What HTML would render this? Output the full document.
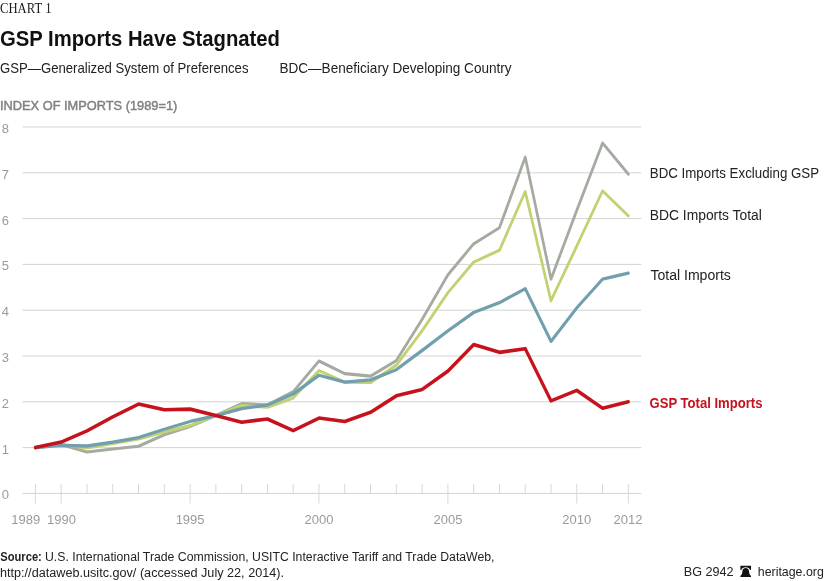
<!DOCTYPE html><html><head><meta charset="utf-8"><title>GSP Imports Have Stagnated</title>
<style>html,body{margin:0;padding:0;background:#fff}svg{display:block}text{font-family:"Liberation Sans",sans-serif}</style></head><body>
<svg width="825" height="581" viewBox="0 0 825 581">
<rect width="825" height="581" fill="#fff"/>
<text x="0" y="13" style="font-family:'Liberation Serif',serif" font-size="14.5" fill="#1a1a1a" textLength="51.5" lengthAdjust="spacingAndGlyphs">CHART 1</text>
<text x="0" y="45.8" font-size="22.5" font-weight="bold" fill="#111" textLength="280" lengthAdjust="spacingAndGlyphs">GSP Imports Have Stagnated</text>
<text x="0" y="73.2" font-size="15" fill="#222" textLength="248.5" lengthAdjust="spacingAndGlyphs">GSP—Generalized System of Preferences</text>
<text x="279.4" y="73.2" font-size="15" fill="#222" textLength="232.2" lengthAdjust="spacingAndGlyphs">BDC—Beneficiary Developing Country</text>
<text x="0" y="110" font-size="12.8" fill="#808080" stroke="#808080" stroke-width="0.45" textLength="177.3" lengthAdjust="spacingAndGlyphs">INDEX OF IMPORTS (1989=1)</text>
<line x1="22.5" x2="641.3" y1="493.40" y2="493.40" stroke="#d4d4d4" stroke-width="1"/>
<text x="1.8" y="499.3" font-size="13" fill="#9b9b9b">0</text>
<line x1="22.5" x2="641.3" y1="447.60" y2="447.60" stroke="#d4d4d4" stroke-width="1"/>
<text x="1.8" y="453.5" font-size="13" fill="#9b9b9b">1</text>
<line x1="22.5" x2="641.3" y1="401.80" y2="401.80" stroke="#d4d4d4" stroke-width="1"/>
<text x="1.8" y="407.7" font-size="13" fill="#9b9b9b">2</text>
<line x1="22.5" x2="641.3" y1="356.00" y2="356.00" stroke="#d4d4d4" stroke-width="1"/>
<text x="1.8" y="361.9" font-size="13" fill="#9b9b9b">3</text>
<line x1="22.5" x2="641.3" y1="310.20" y2="310.20" stroke="#d4d4d4" stroke-width="1"/>
<text x="1.8" y="316.1" font-size="13" fill="#9b9b9b">4</text>
<line x1="22.5" x2="641.3" y1="264.40" y2="264.40" stroke="#d4d4d4" stroke-width="1"/>
<text x="1.8" y="270.3" font-size="13" fill="#9b9b9b">5</text>
<line x1="22.5" x2="641.3" y1="218.60" y2="218.60" stroke="#d4d4d4" stroke-width="1"/>
<text x="1.8" y="224.5" font-size="13" fill="#9b9b9b">6</text>
<line x1="22.5" x2="641.3" y1="172.80" y2="172.80" stroke="#d4d4d4" stroke-width="1"/>
<text x="1.8" y="178.7" font-size="13" fill="#9b9b9b">7</text>
<line x1="22.5" x2="641.3" y1="127.00" y2="127.00" stroke="#d4d4d4" stroke-width="1"/>
<text x="1.8" y="132.9" font-size="13" fill="#9b9b9b">8</text>
<line x1="35.40" x2="35.40" y1="484" y2="503.5" stroke="#d8d8d8" stroke-width="1"/>
<line x1="61.18" x2="61.18" y1="484" y2="503.5" stroke="#d8d8d8" stroke-width="1"/>
<line x1="86.96" x2="86.96" y1="484" y2="493.5" stroke="#d8d8d8" stroke-width="1"/>
<line x1="112.74" x2="112.74" y1="484" y2="493.5" stroke="#d8d8d8" stroke-width="1"/>
<line x1="138.52" x2="138.52" y1="484" y2="493.5" stroke="#d8d8d8" stroke-width="1"/>
<line x1="164.30" x2="164.30" y1="484" y2="493.5" stroke="#d8d8d8" stroke-width="1"/>
<line x1="190.08" x2="190.08" y1="484" y2="503.5" stroke="#d8d8d8" stroke-width="1"/>
<line x1="215.86" x2="215.86" y1="484" y2="493.5" stroke="#d8d8d8" stroke-width="1"/>
<line x1="241.64" x2="241.64" y1="484" y2="493.5" stroke="#d8d8d8" stroke-width="1"/>
<line x1="267.42" x2="267.42" y1="484" y2="493.5" stroke="#d8d8d8" stroke-width="1"/>
<line x1="293.20" x2="293.20" y1="484" y2="493.5" stroke="#d8d8d8" stroke-width="1"/>
<line x1="318.98" x2="318.98" y1="484" y2="503.5" stroke="#d8d8d8" stroke-width="1"/>
<line x1="344.76" x2="344.76" y1="484" y2="493.5" stroke="#d8d8d8" stroke-width="1"/>
<line x1="370.54" x2="370.54" y1="484" y2="493.5" stroke="#d8d8d8" stroke-width="1"/>
<line x1="396.32" x2="396.32" y1="484" y2="493.5" stroke="#d8d8d8" stroke-width="1"/>
<line x1="422.10" x2="422.10" y1="484" y2="493.5" stroke="#d8d8d8" stroke-width="1"/>
<line x1="447.88" x2="447.88" y1="484" y2="503.5" stroke="#d8d8d8" stroke-width="1"/>
<line x1="473.66" x2="473.66" y1="484" y2="493.5" stroke="#d8d8d8" stroke-width="1"/>
<line x1="499.44" x2="499.44" y1="484" y2="493.5" stroke="#d8d8d8" stroke-width="1"/>
<line x1="525.22" x2="525.22" y1="484" y2="493.5" stroke="#d8d8d8" stroke-width="1"/>
<line x1="551.00" x2="551.00" y1="484" y2="493.5" stroke="#d8d8d8" stroke-width="1"/>
<line x1="576.78" x2="576.78" y1="484" y2="503.5" stroke="#d8d8d8" stroke-width="1"/>
<line x1="602.56" x2="602.56" y1="484" y2="493.5" stroke="#d8d8d8" stroke-width="1"/>
<line x1="628.34" x2="628.34" y1="484" y2="503.5" stroke="#d8d8d8" stroke-width="1"/>
<text x="25.7" y="523.6" font-size="13" fill="#9b9b9b" text-anchor="middle">1989</text>
<text x="61.4" y="523.6" font-size="13" fill="#9b9b9b" text-anchor="middle">1990</text>
<text x="190.1" y="523.6" font-size="13" fill="#9b9b9b" text-anchor="middle">1995</text>
<text x="319.0" y="523.6" font-size="13" fill="#9b9b9b" text-anchor="middle">2000</text>
<text x="447.9" y="523.6" font-size="13" fill="#9b9b9b" text-anchor="middle">2005</text>
<text x="576.8" y="523.6" font-size="13" fill="#9b9b9b" text-anchor="middle">2010</text>
<text x="628.0" y="523.6" font-size="13" fill="#9b9b9b" text-anchor="middle">2012</text>
<path transform="scale(0.88,1)" d="M40.23,447.60 L69.52,444.39 L98.82,451.95 L128.11,448.97 L157.41,446.23 L186.70,434.78 L216.00,426.53 L245.30,415.54 L274.59,403.63 L303.89,405.01 L333.18,391.72 L362.48,361.04 L391.77,373.63 L421.07,376.15 L450.36,360.58 L479.66,319.36 L508.95,274.93 L538.25,243.79 L567.55,227.76 L596.84,157.23 L626.14,279.06 L655.43,210.36 L684.73,143.03 L714.02,174.17" fill="none" stroke="#a4aba1" stroke-width="3.1" stroke-linejoin="round" stroke-linecap="round"/>
<path transform="scale(0.88,1)" d="M40.23,447.60 L69.52,444.39 L98.82,448.06 L128.11,443.48 L157.41,438.90 L186.70,432.03 L216.00,425.62 L245.30,415.54 L274.59,405.46 L303.89,407.30 L333.18,397.91 L362.48,370.66 L391.77,382.11 L421.07,382.56 L450.36,365.16 L479.66,330.81 L508.95,292.80 L538.25,262.11 L567.55,250.20 L596.84,191.58 L626.14,300.81 L655.43,246.08 L684.73,190.89 L714.02,215.85" fill="none" stroke="#c2d273" stroke-width="3.1" stroke-linejoin="round" stroke-linecap="round"/>
<path transform="scale(0.88,1)" d="M40.23,447.60 L69.52,445.31 L98.82,446.00 L128.11,442.10 L157.41,437.52 L186.70,429.28 L216.00,421.49 L245.30,415.54 L274.59,408.67 L303.89,405.01 L333.18,394.01 L362.48,375.24 L391.77,382.11 L421.07,379.82 L450.36,369.74 L479.66,350.50 L508.95,330.81 L538.25,312.49 L567.55,302.64 L596.84,288.67 L626.14,341.34 L655.43,307.91 L684.73,279.06 L714.02,273.10" fill="none" stroke="#729fae" stroke-width="3.3" stroke-linejoin="round" stroke-linecap="round"/>
<path transform="scale(0.88,1)" d="M40.23,447.60 L69.52,442.10 L98.82,430.88 L128.11,416.91 L157.41,404.09 L186.70,409.81 L216.00,409.13 L245.30,415.54 L274.59,422.18 L303.89,418.97 L333.18,430.65 L362.48,418.06 L391.77,421.49 L421.07,412.33 L450.36,395.85 L479.66,389.43 L508.95,371.11 L538.25,344.55 L567.55,352.34 L596.84,348.67 L626.14,400.88 L655.43,390.35 L684.73,408.21 L714.02,401.80" fill="none" stroke="#c6121c" stroke-width="3.6" stroke-linejoin="round" stroke-linecap="round"/>
<text x="649.8" y="178.3" font-size="15.2" fill="#222" textLength="169.3" lengthAdjust="spacingAndGlyphs">BDC Imports Excluding GSP</text>
<text x="649.8" y="219.7" font-size="15.2" fill="#222" textLength="112" lengthAdjust="spacingAndGlyphs">BDC Imports Total</text>
<text x="650.4" y="279.8" font-size="15.2" fill="#222" textLength="80.5" lengthAdjust="spacingAndGlyphs">Total Imports</text>
<text x="649.5" y="408.2" font-size="15.2" font-weight="bold" fill="#c6121c" textLength="113" lengthAdjust="spacingAndGlyphs">GSP Total Imports</text>
<text x="0.3" y="561" font-size="12" font-weight="bold" fill="#222" textLength="41.5" lengthAdjust="spacingAndGlyphs">Source:</text>
<text x="45" y="561" font-size="12" fill="#222" textLength="449.5" lengthAdjust="spacingAndGlyphs">U.S. International Trade Commission, USITC Interactive Tariff and Trade DataWeb,</text>
<text x="0" y="577.1" font-size="12" fill="#222" textLength="284" lengthAdjust="spacingAndGlyphs">http://dataweb.usitc.gov/ (accessed July 22, 2014).</text>
<text x="683.8" y="576.4" font-size="13" fill="#222" textLength="49.8" lengthAdjust="spacingAndGlyphs">BG 2942</text>
<text x="757.8" y="576.4" font-size="13.3" fill="#222" textLength="66" lengthAdjust="spacingAndGlyphs">heritage.org</text>
<g fill="#111"><path d="M740.4,565.8H751V569.9H750.1C749.6,568.4 748,567.3 745.7,567.3C743.4,567.3 741.8,568.4 741.3,569.9H740.4Z"/><path d="M745.7,568.1C743.6,568.1 742.6,569.4 742.4,571.2C742.2,573.2 741.8,574.8 740.4,576.1V577H751V576.1C749.6,574.8 749.2,573.2 749,571.2C748.8,569.4 747.8,568.1 745.7,568.1Z"/></g>
</svg></body></html>
